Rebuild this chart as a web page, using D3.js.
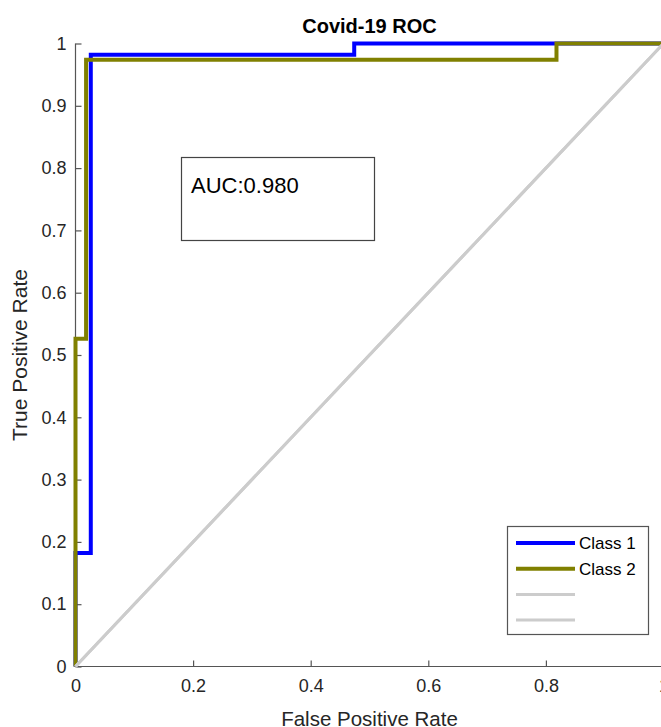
<!DOCTYPE html>
<html><head><meta charset="utf-8">
<script src="https://cdn.jsdelivr.net/npm/d3@7"></script>
<style>body{margin:0;background:#fff;}svg{display:block;font-family:"Liberation Sans",Arial,sans-serif;}</style>
</head><body>
<script>
const title = "Covid-19 ROC";
const xLabel = "False Positive Rate";
const yLabel = "True Positive Rate";
const aucText = "AUC:0.980";
const xTicks = [0, 0.2, 0.4, 0.6, 0.8, 1];
const yTicks = [0, 0.1, 0.2, 0.3, 0.4, 0.5, 0.6, 0.7, 0.8, 0.9, 1];
const class1FPR = [0, 0, 0.026, 0.026, 0.474, 0.474, 1];
const class1TPR = [0, 0.182, 0.182, 0.982, 0.982, 1, 1];
const class2FPR = [0, 0, 0.018, 0.018, 0.818, 0.818, 1];
const class2TPR = [0, 0.526, 0.526, 0.974, 0.974, 1, 1];
const diagX = [0, 1];
const diagY = [0, 1];
const seriesNames = ["Class 1", "Class 2", "", ""];
const seriesColors = ["#0000ff", "#808000", "#cccccc", "#cccccc"];

const W = 661, H = 727;
const svg = d3.select("body").append("svg").attr("width", W).attr("height", H);
const x = d3.scaleLinear().domain([0, 1]).range([75.5, 663.5]);
const y = d3.scaleLinear().domain([0, 1]).range([666.5, 43.5]);

// axes
const ax = svg.append("g").attr("transform", `translate(0,${y(0)})`)
  .call(d3.axisBottom(x).tickValues(xTicks).tickSize(-6).tickPadding(14).tickFormat(d3.format("")));
const ay = svg.append("g").attr("transform", `translate(${x(0)},0)`)
  .call(d3.axisLeft(y).tickValues(yTicks).tickSize(-6).tickPadding(9).tickFormat(d3.format("")));
[ax, ay].forEach(g => {
  g.selectAll("path").attr("stroke", "#555").attr("stroke-width", 1.2);
  g.selectAll("line").attr("stroke", "#555").attr("stroke-width", 1.2);
  g.selectAll("text").attr("fill", "#262626").style("font-size", "18px").style("font-family", "'Liberation Sans',Arial,sans-serif");
});
ax.select(".domain").attr("d", `M${x(0)},0H${x(1)}`);
ay.select(".domain").attr("d", `M0,${y(1)}V${y(0)}`);
ax.selectAll("text").attr("dy", "0.66em");

// lines
const line = d3.line().x(d => x(d[0])).y(d => y(d[1]));
const series = [
  d3.zip(class1FPR, class1TPR),
  d3.zip(class2FPR, class2TPR),
  d3.zip(diagX, diagY),
  d3.zip(diagX, diagY)
];
const widths = [4, 4, 3, 3];
series.forEach((s, i) => {
  svg.append("path").attr("d", line(s)).attr("fill", "none")
    .attr("stroke", seriesColors[i]).attr("stroke-width", widths[i])
    .attr("stroke-linejoin", "miter");
});

// title and labels
svg.append("text").attr("x", (x(0) + x(1)) / 2).attr("y", 33).attr("text-anchor", "middle")
  .style("font-size", "20px").style("font-weight", "bold").attr("fill", "#000").text(title);
svg.append("text").attr("x", (x(0) + x(1)) / 2).attr("y", 726).attr("text-anchor", "middle")
  .style("font-size", "20.5px").attr("fill", "#262626").text(xLabel);
svg.append("text").attr("transform", `translate(27,${(y(0) + y(1)) / 2}) rotate(-90)`).attr("text-anchor", "middle")
  .style("font-size", "21px").attr("fill", "#262626").text(yLabel);

// AUC box
svg.append("rect").attr("x", 181.5).attr("y", 157.5).attr("width", 193).attr("height", 83)
  .attr("fill", "#fff").attr("stroke", "#444").attr("stroke-width", 1.2);
svg.append("text").attr("x", 191).attr("y", 193).style("font-size", "22px").attr("fill", "#000").text(aucText);

// legend
const lg = svg.append("g");
lg.append("rect").attr("x", 507.5).attr("y", 526.5).attr("width", 141).attr("height", 108)
  .attr("fill", "#fff").attr("stroke", "#555").attr("stroke-width", 1.2);
seriesNames.forEach((n, i) => {
  const yy = 543 + i * 25.7;
  lg.append("line").attr("x1", 516).attr("x2", 575).attr("y1", yy).attr("y2", yy)
    .attr("stroke", seriesColors[i]).attr("stroke-width", widths[i]);
  if (n) lg.append("text").attr("x", 579).attr("y", yy + 6).style("font-size", "17px").attr("fill", "#000").text(n);
});
</script>
</body></html>
